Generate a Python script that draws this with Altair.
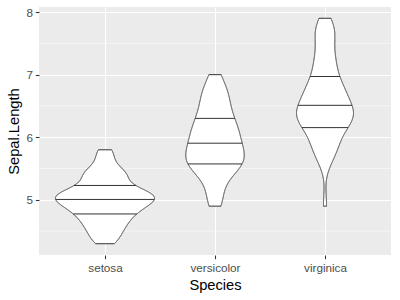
import altair as alt
import pandas as pd

species = ["setosa", "versicolor", "virginica"]
setosa = [5.1, 4.9, 4.7, 4.6, 5.0, 5.4, 4.6, 5.0, 4.4, 4.9, 5.4, 4.8, 4.8, 4.3, 5.8, 5.7, 5.4, 5.1, 5.7, 5.1,
          5.4, 5.1, 4.6, 5.1, 4.8, 5.0, 5.0, 5.2, 5.2, 4.7, 4.8, 5.4, 5.2, 5.5, 4.9, 5.0, 5.5, 4.9, 4.4, 5.1,
          5.0, 4.5, 4.4, 5.0, 5.1, 4.8, 5.1, 4.6, 5.3, 5.0]
versicolor = [7.0, 6.4, 6.9, 5.5, 6.5, 5.7, 6.3, 4.9, 6.6, 5.2, 5.0, 5.9, 6.0, 6.1, 5.6, 6.7, 5.6, 5.8, 6.2, 5.6,
              5.9, 6.1, 6.3, 6.1, 6.4, 6.6, 6.8, 6.7, 6.0, 5.7, 5.5, 5.5, 5.8, 6.0, 5.4, 6.0, 6.7, 6.3, 5.6, 5.5,
              5.5, 6.1, 5.8, 5.0, 5.6, 5.7, 5.7, 6.2, 5.1, 5.7]
virginica = [6.3, 5.8, 7.1, 6.3, 6.5, 7.6, 4.9, 7.3, 6.7, 7.2, 6.5, 6.4, 6.8, 5.7, 5.8, 6.4, 6.5, 7.7, 7.7, 6.0,
             6.9, 5.6, 7.7, 6.3, 6.7, 7.2, 6.2, 6.1, 6.4, 7.2, 7.4, 7.9, 6.4, 6.3, 6.1, 7.7, 6.3, 6.4, 6.0, 6.9,
             6.7, 6.9, 5.8, 6.8, 6.7, 6.7, 6.3, 6.5, 6.2, 5.9]
quantiles = [0.25, 0.5, 0.75]
y_breaks = [5, 6, 7, 8]
y_minor = [4.5, 5.5, 6.5, 7.5]

groups = {"setosa": setosa, "versicolor": versicolor, "virginica": virginica}
df = pd.DataFrame([{"Species": s, "sl": v} for s in species for v in groups[s]])
minor_df = pd.DataFrame({"m": y_minor})

allv = setosa + versicolor + virginica
lo, hi = min(allv), max(allv)
pad = 0.05 * (hi - lo)
yscale = alt.Scale(domain=[lo - pad, hi + pad], nice=False, zero=False)
xscale = alt.Scale(domain=[0.4, len(species) + 0.6], nice=False, zero=False)

sp_list = "[" + ",".join("'%s'" % s for s in species) + "]"

yaxis = alt.Axis(values=y_breaks, title="Sepal.Length", labelPadding=2.9,
                 titleX=-25, titleBaseline="middle")
xaxis = alt.Axis(values=[1, 2, 3], labelExpr=sp_list + "[datum.value - 1]", title="Species",
                 labelPadding=3.5)


def density_base():
    return (
        alt.Chart(df)
        .transform_joinaggregate(sdv="stdev(sl)", q1="q1(sl)", q3="q3(sl)", n="count()",
                                 vmin="min(sl)", vmax="max(sl)", groupby=["Species"])
        .transform_calculate(bw="0.9 * min(datum.sdv, (datum.q3 - datum.q1) / 1.34) * pow(datum.n, -0.2)")
        .transform_calculate(s="(datum.sl - datum.vmin) / datum.bw")
        .transform_density("s", groupby=["Species", "bw", "vmin", "vmax"], bandwidth=1, steps=3000,
                           as_=["sv", "dv"])
        .transform_calculate(value="datum.vmin + datum.sv * datum.bw", dens="datum.dv / datum.bw")
        .transform_filter("datum.value <= datum.vmax + 1e-9")
        .transform_joinaggregate(maxd="max(dens)")
        .transform_calculate(idx="indexof(" + sp_list + ", datum.Species) + 1")
        .transform_calculate(xl="datum.idx - 0.45 * datum.dens / datum.maxd",
                             xr="datum.idx + 0.45 * datum.dens / datum.maxd")
    )


minor = alt.Chart(minor_df).mark_rule(color="white", strokeWidth=0.53).encode(
    y=alt.Y("m:Q", scale=yscale, axis=yaxis)
)

violins = density_base().mark_area(
    orient="horizontal", fill="white", stroke="#333333", strokeWidth=1.0
).encode(
    y=alt.Y("value:Q", scale=yscale, axis=yaxis),
    x=alt.X("xl:Q", scale=xscale, axis=xaxis),
    x2="xr:Q",
    detail="Species:N",
)

qexpr = " || ".join("(datum.prev < %s && datum.cdf >= %s)" % (q, q) for q in quantiles)
qlines = (
    density_base()
    .transform_joinaggregate(tot="sum(dens)", groupby=["Species"])
    .transform_calculate(dn="datum.dens / datum.tot")
    .transform_window(cdf="sum(dn)", sort=[alt.SortField("value")], groupby=["Species"], frame=[None, 0])
    .transform_window(prev="lag(cdf)", sort=[alt.SortField("value")], groupby=["Species"])
    .transform_filter(qexpr)
    .mark_rule(color="#333333", strokeWidth=1.0)
    .encode(
        y=alt.Y("value:Q", scale=yscale, axis=yaxis),
        x=alt.X("xl:Q", scale=xscale, axis=xaxis),
        x2="xr:Q",
    )
)

chart = (
    alt.layer(minor, violins, qlines)
    .properties(width=352, height=248, autosize="none",
                padding={"left": 39, "top": 7, "right": 9, "bottom": 45})
    .configure_view(fill="#EBEBEB", stroke=None)
    .configure_axis(
        grid=True, gridColor="white", gridWidth=1.07, domain=False,
        tickColor="#333333", tickSize=3.67, tickWidth=1.07,
        labelColor="#4D4D4D", labelFontSize=11.7, labelFont="Liberation Sans",
        titleFont="Liberation Sans", titleFontSize=14.7, titleFontWeight="normal", titleColor="black",
    )
)

chart.save("out.html", embed_options={"renderer": "svg", "actions": False})
